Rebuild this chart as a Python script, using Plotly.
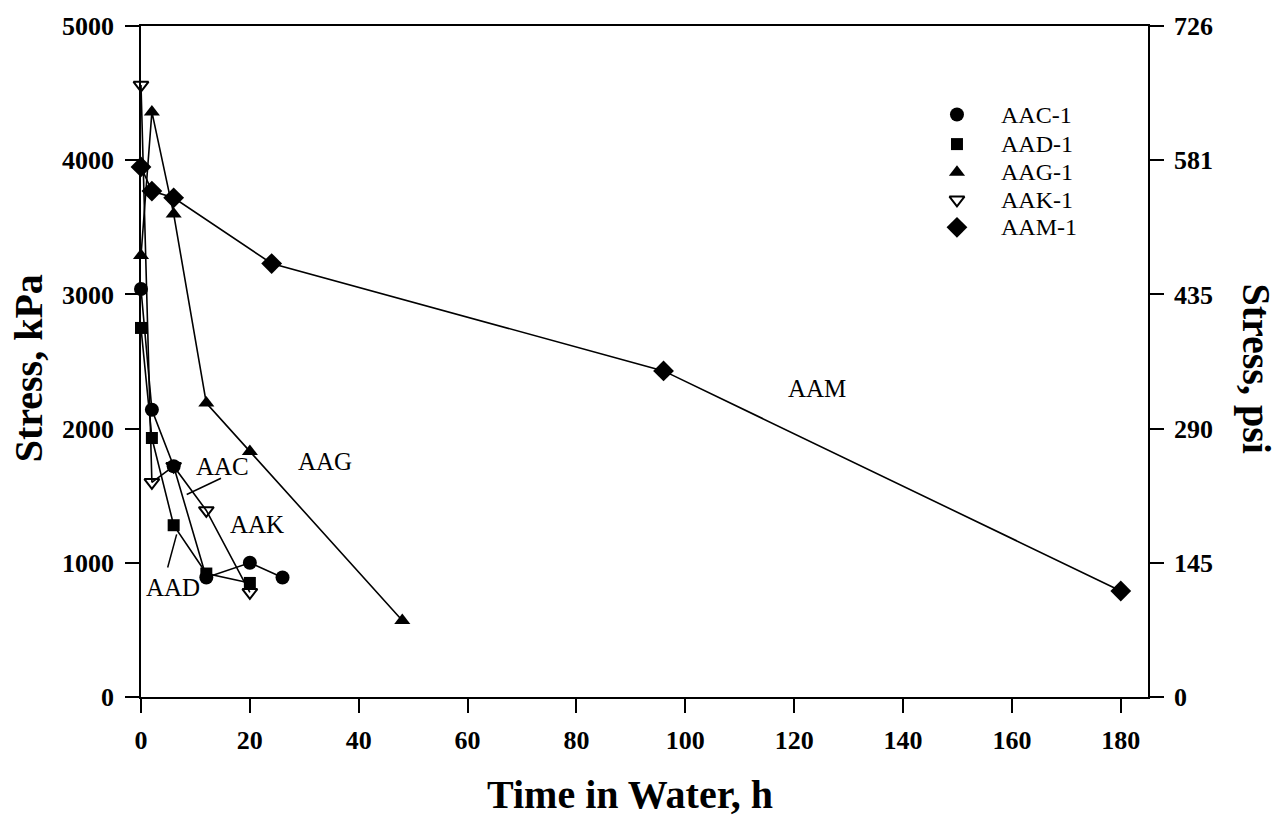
import plotly.graph_objects as go

# Specimen series: time in water (h) and stress (kPa)
aac_t = [0, 2, 6, 12, 20, 26]
aac_s = [3040, 2140, 1720, 890, 1000, 890]

aad_t = [0, 2, 6, 12, 20]
aad_s = [2750, 1930, 1280, 920, 850]

aag_t = [0, 2, 6, 12, 20, 48]
aag_s = [3290, 4360, 3600, 2190, 1830, 570]

aak_t = [0, 2, 6, 12, 20]
aak_s = [4560, 1600, 1720, 1390, 780]

aam_t = [0, 2, 6, 24, 96, 180]
aam_s = [3950, 3770, 3720, 3230, 2430, 790]

# Axis ticks (left in kPa, right in psi)
kpa_ticks = [0, 1000, 2000, 3000, 4000, 5000]
psi_labels = ["0", "145", "290", "435", "581", "726"]
x_ticks = [0, 20, 40, 60, 80, 100, 120, 140, 160, 180]

# Curve labels with their positions, and leader lines (x0, y0, x1, y1)
curve_names = ["AAM", "AAG", "AAC", "AAK", "AAD"]
curve_name_x = [124.2, 33.8, 14.9, 21.3, 5.9]
curve_name_y = [2296, 1756, 1719, 1289, 815]
leader_lines = [(14.7, 1630, 8.4, 1509), (6.55, 1212, 4.9, 965)]

# Key placement (fractions of the plotting area)
key_symbol_x = 0.8103
key_text_x = 0.852
key_rows_y = [0.868, 0.824, 0.782, 0.741, 0.700]

SERIF = "Liberation Serif, Times New Roman, serif"
INK = "black"

series = [
    ("AAC-1", aac_t, aac_s, dict(symbol="circle", size=14, color=INK)),
    ("AAD-1", aad_t, aad_s, dict(symbol="square", size=12, color=INK)),
    ("AAG-1", aag_t, aag_s, dict(symbol="triangle-up", size=14, color=INK)),
    ("AAK-1", aak_t, aak_s, dict(symbol="triangle-down-open", size=13, color=INK,
                                 line=dict(width=2, color=INK))),
    ("AAM-1", aam_t, aam_s, dict(symbol="diamond", size=16, color=INK)),
]

fig = go.Figure()

for name, t, s, mk in series:
    fig.add_trace(go.Scatter(
        x=t, y=s, mode="lines+markers", name=name, showlegend=False,
        line=dict(color=INK, width=1.6), marker=mk, cliponaxis=False,
    ))

# Key: symbols on a unit overlay, names as text
for (name, t, s, mk), ky in zip(series, key_rows_y):
    fig.add_trace(go.Scatter(
        x=[key_symbol_x], y=[ky], xaxis="x2", yaxis="y3", mode="markers",
        marker=mk, showlegend=False, hoverinfo="skip", cliponaxis=False,
    ))
    fig.add_annotation(xref="paper", yref="paper", x=key_text_x, y=ky,
                       xanchor="left", yanchor="middle", text=name, showarrow=False,
                       font=dict(family=SERIF, size=24, color=INK))

# Carrier for the psi axis on the right
fig.add_trace(go.Scatter(x=[None], y=[None], yaxis="y2", showlegend=False,
                         hoverinfo="skip"))

for txt, x, y in zip(curve_names, curve_name_x, curve_name_y):
    fig.add_annotation(x=x, y=y, text=txt, showarrow=False,
                       xanchor="center", yanchor="middle",
                       font=dict(family=SERIF, size=25, color=INK))

for x0, y0, x1, y1 in leader_lines:
    fig.add_shape(type="line", x0=x0, y0=y0, x1=x1, y1=y1,
                  line=dict(color=INK, width=1.5))

# Axis titles
title_font = dict(family=SERIF, size=40, color=INK)
fig.add_annotation(xref="paper", yref="paper", x=-0.1121, y=0.49,
                   xanchor="center", yanchor="middle",
                   text="<b>Stress, kPa</b>", textangle=-90, showarrow=False,
                   font=title_font)
fig.add_annotation(xref="paper", yref="paper", x=1.108, y=0.49,
                   xanchor="center", yanchor="middle",
                   text="<b>Stress, psi</b>", textangle=90, showarrow=False,
                   font=title_font)
fig.add_annotation(xref="paper", yref="paper", x=0.4856, y=-0.145,
                   xanchor="center", yanchor="middle",
                   text="<b>Time in Water, h</b>", showarrow=False,
                   font=title_font)

tickfont = dict(family=SERIF, size=26, color=INK, weight="bold")

fig.update_layout(
    width=1287, height=821,
    margin=dict(l=141, r=139, t=22, b=124),
    paper_bgcolor="white", plot_bgcolor="white",
    showlegend=False,
    xaxis=dict(range=[0, 185], tickvals=x_ticks, ticks="outside", ticklen=14,
               tickwidth=1.5, tickcolor=INK, showline=True, linecolor=INK, linewidth=2,
               mirror=True, showgrid=False, zeroline=False, tickfont=tickfont,
               ticklabelstandoff=5),
    xaxis2=dict(range=[0, 1], overlaying="x", visible=False, fixedrange=True),
    yaxis=dict(range=[0, 5000], tickvals=kpa_ticks, ticks="outside", ticklen=14,
               tickwidth=1.5, tickcolor=INK, showline=True, linecolor=INK, linewidth=1.5,
               showgrid=False, zeroline=False, tickfont=tickfont,
               ticklabelstandoff=6),
    yaxis2=dict(range=[0, 5000], tickvals=kpa_ticks, ticktext=psi_labels,
                overlaying="y", side="right", anchor="x", ticks="outside", ticklen=14,
                tickwidth=1.5, tickcolor=INK, showline=True, linecolor=INK, linewidth=1.5,
                showgrid=False, zeroline=False, tickfont=tickfont,
                ticklabelstandoff=5),
    yaxis3=dict(range=[0, 1], overlaying="y", anchor="x2", visible=False,
                fixedrange=True),
)

fig.write_html("out.html")
